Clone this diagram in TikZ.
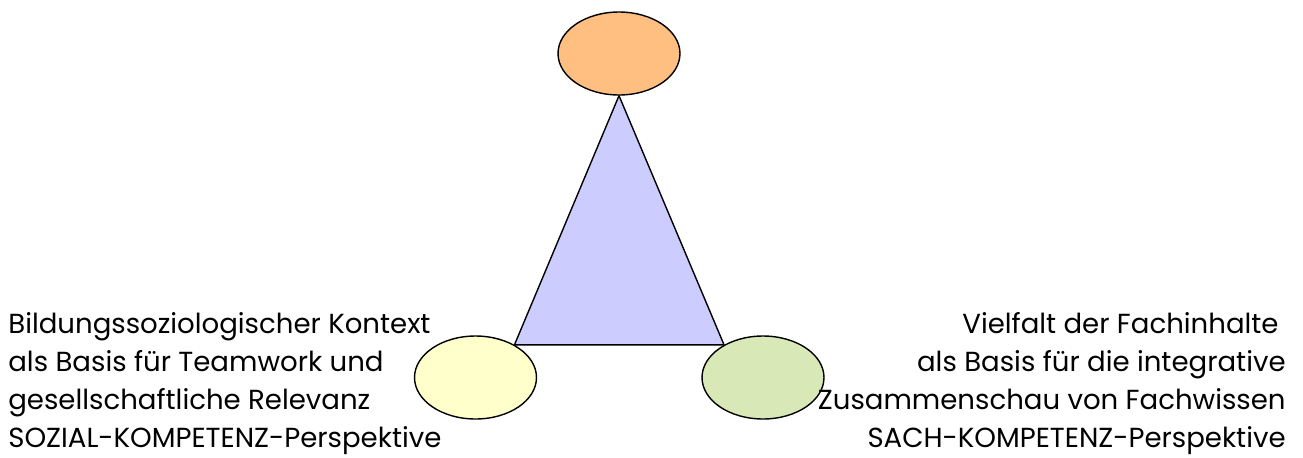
\documentclass[tikz,border=0pt]{standalone}
\usepackage{fontspec}
\setmainfont{Poppins}
\usepackage{xcolor}
\usepackage{tikz}
\usetikzlibrary{shapes,backgrounds}

\definecolor{topfill}{HTML}{FFBF80}
\definecolor{trifill}{HTML}{CCCCFF}
\definecolor{leftfill}{HTML}{FFFFCC}
\definecolor{rightfill}{HTML}{D8E8B6}

\tikzset{
  blob/.style={ellipse, draw, thick, minimum width=2.44cm, minimum height=1.66cm, inner sep=0pt},
  label text/.style={inner sep=0pt, font=\fontsize{15.7}{21.6}\selectfont}
}

\begin{document}
\begin{tikzpicture}[x=0.02cm, y=-0.02cm]
\useasboundingbox (0,0) rectangle (1303,457);
% Ellipses
\node[blob, fill=topfill] (top) at (619,53.5) {};
\node[blob, fill=leftfill] (soz) at (475.5,377.5) {};
\node[blob, fill=rightfill] (sach) at (763,377.5) {};
% Triangle
\begin{scope}[on background layer]
\draw[thick, fill=trifill, line join=round] (top.south) -- (soz.40) -- (sach.140) -- cycle;
\end{scope}

% Texts
\node[label text, anchor=north west, align=left] (soztext) at (8,312) {Bildungssoziologischer Kontext\\als Basis für Teamwork und\\gesellschaftliche Relevanz\\SOZIAL-KOMPETENZ-Perspektive};
\node[label text, anchor=north east, align=right] (sachtext) at (1286,312) {Vielfalt der Fachinhalte\hspace*{4pt}\\als Basis für die integrative\hspace*{4pt}\\Zusammenschau von Fachwissen\\SACH-KOMPETENZ-Perspektive};
\end{tikzpicture}
\end{document}
